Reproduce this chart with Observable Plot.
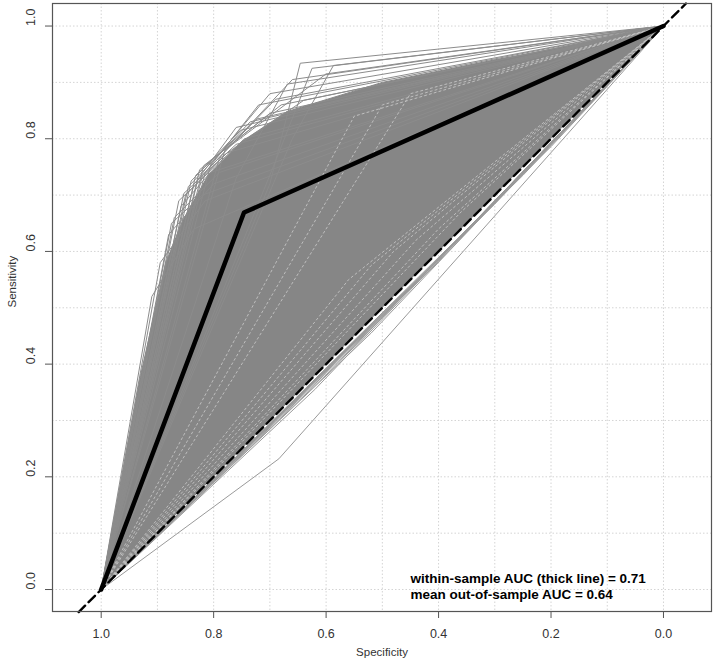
<!DOCTYPE html>
<html>
<head>
<meta charset="utf-8">
<script src="https://cdn.jsdelivr.net/npm/d3@7"></script>
<script src="https://cdn.jsdelivr.net/npm/@observablehq/plot@0.6"></script>
<style>
  html, body { margin: 0; padding: 0; background: #fff; }
  #chart svg { font-family: "Liberation Sans", Arial, sans-serif; }
</style>
</head>
<body>
<div id="chart"></div>
<script>
// ---- data ----
const xTicks = [1.0, 0.8, 0.6, 0.4, 0.2, 0.0];
const yTicks = [0.0, 0.2, 0.4, 0.6, 0.8, 1.0];
const gridVals = [0, 0.1, 0.2, 0.3, 0.4, 0.5, 0.6, 0.7, 0.8, 0.9, 1.0];

// within-sample ROC (thick line)
const thickSpec = [1, 0.746, 0];
const thickSens = [0, 0.669, 1];

// chance diagonal
const diagSpec = [1.04, -0.04];
const diagSens = [-0.04, 1.04];

// region densely covered by the out-of-sample ROC curves
const denseSpec = [1, 0.93, 0.885, 0.855, 0.81, 0.75, 0.67, 0.5, 0.3, 0.15, 0];
const denseSens = [0, 0.38, 0.58, 0.655, 0.735, 0.795, 0.848, 0.9, 0.94, 0.968, 1];

// individual out-of-sample curves on the upper fringe: [spec1, sens1, spec2, sens2]
const upperCurves = [
  [0.853, 0.703, 0.760, 0.790],
  [0.862, 0.690, 0.745, 0.800],
  [0.870, 0.660, 0.790, 0.740],
  [0.880, 0.630, 0.800, 0.720],
  [0.895, 0.580, 0.815, 0.690],
  [0.910, 0.520, 0.835, 0.640],
  [0.845, 0.715, 0.735, 0.830],
  [0.840, 0.725, 0.752, 0.815],
  [0.832, 0.735, 0.723, 0.835],
  [0.825, 0.745, 0.700, 0.845],
  [0.818, 0.752, 0.680, 0.860],
  [0.760, 0.730, 0.669, 0.897],
  [0.700, 0.720, 0.646, 0.934],
  [0.690, 0.760, 0.625, 0.925],
  [0.780, 0.780, 0.600, 0.915],
  [0.660, 0.800, 0.587, 0.930],
  [0.790, 0.765, 0.640, 0.868],
  [0.805, 0.755, 0.700, 0.880],
  [0.815, 0.740, 0.720, 0.860],
  [0.828, 0.728, 0.760, 0.820],
  [0.850, 0.700, 0.776, 0.775],
  [0.858, 0.680, 0.806, 0.740],
  [0.875, 0.650, 0.820, 0.700],
  [0.835, 0.720, 0.690, 0.870],
  [0.820, 0.735, 0.660, 0.905]
];

// individual curves on the lower fringe (near / below chance): [spec, sens]
const lowerCurves = [
  [0.684, 0.232], [0.62, 0.355], [0.58, 0.40], [0.55, 0.432], [0.50, 0.483],
  [0.45, 0.535], [0.40, 0.582], [0.35, 0.635], [0.30, 0.684], [0.25, 0.735],
  [0.20, 0.786], [0.52, 0.455], [0.42, 0.565]
];

// lighter streaks visible inside the dense region: [spec, sens]
const lightCurves = [
  [0.40, 0.64], [0.44, 0.62], [0.48, 0.60], [0.36, 0.67], [0.52, 0.575], [0.56, 0.55],
  [0.50, 0.86], [0.45, 0.88], [0.55, 0.84]
];

const annotation = ["within-sample AUC (thick line) = 0.71", "mean out-of-sample AUC = 0.64"];

// ---- build tables ----
const upperRows = [];
upperCurves.forEach((c, i) => {
  upperRows.push({id: i, x: 1, y: 0}, {id: i, x: c[0], y: c[1]}, {id: i, x: c[2], y: c[3]}, {id: i, x: 0, y: 1});
});
const lowerRows = [];
lowerCurves.forEach((c, i) => {
  lowerRows.push({id: i, x: 1, y: 0}, {id: i, x: c[0], y: c[1]}, {id: i, x: 0, y: 1});
});
const lightRows = [];
lightCurves.forEach((c, i) => {
  lightRows.push({id: i, x: 1, y: 0}, {id: i, x: c[0], y: c[1]}, {id: i, x: 0, y: 1});
});
const dense = denseSpec.map((s, i) => ({x: s, y: denseSens[i]}));
const thick = thickSpec.map((s, i) => ({x: s, y: thickSens[i]}));
const diag = diagSpec.map((s, i) => ({x: s, y: diagSens[i]}));

const chart = Plot.plot({
  width: 716,
  height: 666,
  marginLeft: 52,
  marginRight: 5,
  marginTop: 3,
  marginBottom: 55,
  style: {background: "#fff", fontFamily: "Liberation Sans, Arial, sans-serif"},
  x: {domain: [1.0866, -0.0854], axis: null},
  y: {domain: [-0.039, 1.04], axis: null},
  marks: [
    Plot.ruleX(gridVals, {stroke: "#d4d4d4", strokeDasharray: "1.5,2"}),
    Plot.ruleY(gridVals, {stroke: "#d4d4d4", strokeDasharray: "1.5,2"}),
    Plot.line(dense, {x: "x", y: "y", fill: "#868686", stroke: "#868686", strokeWidth: 1}),
    Plot.line(upperRows, {x: "x", y: "y", z: "id", stroke: "#8c8c8c", strokeWidth: 1}),
    Plot.line(lowerRows, {x: "x", y: "y", z: "id", stroke: "#9a9a9a", strokeWidth: 1}),
    Plot.line(lightRows, {x: "x", y: "y", z: "id", stroke: "#c4c4c4", strokeWidth: 0.9, strokeDasharray: "2,3"}),
    Plot.line(diag, {x: "x", y: "y", stroke: "#000", strokeWidth: 2.4, strokeDasharray: "9,5"}),
    Plot.line(thick, {x: "x", y: "y", stroke: "#000", strokeWidth: 4.5, strokeLinejoin: "round"}),
    Plot.frame({stroke: "#555", strokeWidth: 1.2}),
    Plot.axisX({ticks: xTicks, tickSize: 7, tickPadding: 11, tickFormat: d => d.toFixed(1), fontSize: 12.5, label: null, stroke: "#555", fill: "#333"}),
    Plot.axisY({ticks: yTicks, tickSize: 7, tickFormat: () => "", label: null, stroke: "#555"}),
    Plot.text(yTicks, {y: d => d, text: d => d.toFixed(1), frameAnchor: "left", dx: -22, rotate: -90, fontSize: 12.5, fill: "#333"}),
    Plot.text(["Specificity"], {frameAnchor: "bottom", dy: 44, fontSize: 11.5, fill: "#333"}),
    Plot.text(["Sensitivity"], {frameAnchor: "left", dx: -40, rotate: -90, fontSize: 11.5, fill: "#333"}),
    Plot.text([annotation[0]], {x: 0.45, y: 0.0124, text: d => d, textAnchor: "start", lineAnchor: "bottom", fontSize: 13.5, fontWeight: "bold", fill: "#000"}),
    Plot.text([annotation[1]], {x: 0.45, y: -0.0165, text: d => d, textAnchor: "start", lineAnchor: "bottom", fontSize: 13.5, fontWeight: "bold", fill: "#000"})
  ]
});
document.getElementById("chart").appendChild(chart);
</script>
</body>
</html>
